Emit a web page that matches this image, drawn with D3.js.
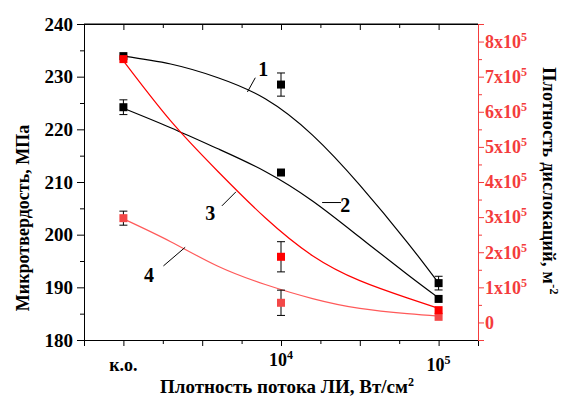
<!DOCTYPE html>
<html>
<head>
<meta charset="utf-8">
<script src="https://cdn.jsdelivr.net/npm/d3@7"></script>
<style>
  body { margin: 0; background: #fff; }
  svg { display: block; }
</style>
</head>
<body>
<div id="chart"></div>
<script>
// x positions are log10 of the flux; "к.о." (control sample) sits at 3
const xPositions = [3, 4, 5];
const xTickLabels = [['к.о.', null], ['10', '4'], ['10', '5']];

// microhardness, MPa (left axis)
const hard1 = [233.9, 228.5, 190.8];
const hard1Err = [0, 2.2, 1.3];
const hard2 = [224.2, 211.8, 187.8];
const hard2Err = [1.4, 0, 0];

// dislocation density, x10^5 m^-2 (right axis)
const dens3 = [7.5, 1.87, 0.35];
const dens3Err = [0, 0.43, 0];
const dens4 = [2.97, 0.56, 0.16];
const dens4Err = [0.2, 0.36, 0];

// fitted curves
const fitX = [3.0, 3.3, 3.6, 3.9, 4.2, 4.5, 4.8, 5.0];
const fit1 = [233.9, 232.4, 229.8, 225.8, 218.9, 209.4, 198.6, 190.8];
const fit2 = [224.0, 220.3, 216.3, 212.0, 206.4, 199.5, 192.5, 188.0];
const fit3 = [7.45, 5.74, 4.30, 2.98, 1.90, 1.19, 0.70, 0.40];
const fit4 = [2.95, 2.30, 1.60, 1.08, 0.68, 0.40, 0.25, 0.18];

const leftTicks = [180, 190, 200, 210, 220, 230, 240];
const rightTicks = [0, 1, 2, 3, 4, 5, 6, 7, 8];

const W = 563, H = 398;
const plot = { left: 84, right: 478, top: 24, bottom: 340 };
const FONT = '"Liberation Serif", "Times New Roman", "DejaVu Serif", serif';

const svg = d3.select('#chart').append('svg')
  .attr('width', W)
  .attr('height', H);

const x = d3.scaleLinear().domain([2.75, 5.25]).range([plot.left, plot.right]);
const yL = d3.scaleLinear().domain([180, 240]).range([plot.bottom, plot.top]);
const yR = d3.scaleLinear().domain([-0.5, 8.5]).range([plot.bottom, plot.top]);

const RED = '#ff0000';
const RED_LIGHT = '#f34848';
const AXIS_RED = '#f43c3c';

// top frame line
svg.append('line').attr('x1', plot.left).attr('x2', plot.right).attr('y1', plot.top).attr('y2', plot.top).attr('stroke', '#000');

// Left axis
const leftMinor = d3.range(185, 240, 10);
const gLeft = svg.append('g').attr('transform', `translate(${plot.left},0)`);
gLeft.call(d3.axisLeft(yL).tickValues(leftTicks).tickSize(7).tickPadding(4).tickFormat(d3.format('d')));
gLeft.append('g').call(d3.axisLeft(yL).tickValues(leftMinor).tickSize(4).tickFormat(''))
  .select('.domain').remove();
gLeft.selectAll('text').attr('font-size', 19).attr('fill', '#000');
gLeft.selectAll('path, line').attr('stroke', '#000');

// Bottom axis
const xMajor = d3.range(3, 5.01, 0.5);
const xMinor = d3.range(2.75, 5.26, 0.5);
const gBottom = svg.append('g').attr('transform', `translate(0,${plot.bottom})`);
gBottom.call(d3.axisBottom(x).tickValues(xMajor).tickSize(6).tickFormat(''));
gBottom.append('g').call(d3.axisBottom(x).tickValues(xMinor).tickSize(4).tickFormat(''))
  .select('.domain').remove();
gBottom.selectAll('path, line').attr('stroke', '#000');

// Top mirror ticks (inward)
const gTop = svg.append('g').attr('transform', `translate(0,${plot.top})`);
gTop.call(d3.axisTop(x).tickValues(xMajor).tickSize(-6).tickFormat(''));
gTop.append('g').call(d3.axisTop(x).tickValues(xMinor).tickSize(-4).tickFormat(''))
  .select('.domain').remove();
gTop.selectAll('path, line').attr('stroke', '#000');

// x tick labels
const xl = svg.append('g').attr('font-size', 18).attr('fill', '#000');
xPositions.forEach((p, i) => {
  const [base, sup] = xTickLabels[i];
  const t = xl.append('text')
    .attr('x', x(p))
    .attr('y', i === 1 ? 366 : 371)
    .attr('text-anchor', 'middle');
  t.append('tspan').text(base);
  if (sup) t.append('tspan').attr('dy', -7).attr('font-size', 12).text(sup);
});

// Right axis (red)
const rightMinor = d3.range(-0.5, 8.51, 1);
const gRight = svg.append('g').attr('transform', `translate(${plot.right},0)`);
gRight.call(d3.axisRight(yR).tickValues(rightTicks).tickSize(6).tickFormat(''));
gRight.append('g').call(d3.axisRight(yR).tickValues(rightMinor).tickSize(4).tickFormat(''))
  .select('.domain').remove();
gRight.selectAll('path, line').attr('stroke', AXIS_RED);
const rl = gRight.append('g').attr('font-size', 18).attr('fill', AXIS_RED);
rightTicks.forEach(v => {
  const t = rl.append('text').attr('x', 7).attr('y', yR(v)).attr('dy', '0.35em');
  if (v === 0) {
    t.text('0');
  } else {
    t.append('tspan').text(`${v}x10`);
    t.append('tspan').attr('dy', -7).attr('font-size', 12).text('5');
  }
});

// Axis titles
svg.append('text')
  .attr('transform', 'translate(29,218) rotate(-90)')
  .attr('text-anchor', 'middle')
  .attr('font-size', 18)
  .text('Микротвердость, МПа');

const rt = svg.append('text')
  .attr('transform', 'translate(543,181) rotate(90)')
  .attr('text-anchor', 'middle')
  .attr('font-size', 18)
  .attr('letter-spacing', 0.3);
rt.append('tspan').text('Плотность дислокаций, м');
rt.append('tspan').attr('dy', -7).attr('font-size', 12).text('-2');

const bt = svg.append('text')
  .attr('x', 287)
  .attr('y', 393)
  .attr('text-anchor', 'middle')
  .attr('font-size', 19);
bt.append('tspan').text('Плотность потока ЛИ, Вт/см');
bt.append('tspan').attr('dy', -7).attr('font-size', 12).text('2');

// Fitted curves
const curves = [
  { vals: fit1, y: yL, color: '#000' },
  { vals: fit2, y: yL, color: '#000' },
  { vals: fit3, y: yR, color: RED },
  { vals: fit4, y: yR, color: '#ff5a5a' }
];
curves.forEach(c => {
  const line = d3.line()
    .x((d, i) => x(fitX[i]))
    .y(d => c.y(d))
    .curve(d3.curveNatural);
  svg.append('path')
    .datum(c.vals)
    .attr('fill', 'none')
    .attr('stroke', c.color)
    .attr('stroke-width', 1.2)
    .attr('d', line);
});

// Points with error bars
const series = [
  { vals: hard1, err: hard1Err, y: yL, color: '#000' },
  { vals: hard2, err: hard2Err, y: yL, color: '#000' },
  { vals: dens4, err: dens4Err, y: yR, color: RED_LIGHT },
  { vals: dens3, err: dens3Err, y: yR, color: RED }
];
series.forEach(s => {
  const g = svg.append('g');
  s.vals.forEach((v, i) => {
    const cx = x(xPositions[i]);
    if (s.err[i] > 0) {
      const y1 = s.y(v - s.err[i]), y2 = s.y(v + s.err[i]);
      g.append('line').attr('x1', cx).attr('x2', cx).attr('y1', y1).attr('y2', y2).attr('stroke', '#000').attr('stroke-width', 1);
      [y1, y2].forEach(yy => g.append('line').attr('x1', cx - 4).attr('x2', cx + 4).attr('y1', yy).attr('y2', yy).attr('stroke', '#000').attr('stroke-width', 1));
    }
    g.append('rect')
      .attr('x', cx - 4).attr('y', s.y(v) - 4)
      .attr('width', 8).attr('height', 8)
      .attr('fill', s.color);
  });
});

// Curve labels with leaders (anchored in data coordinates)
const labels = [
  { text: '1', y: yL, tx: 3.888, ty: 231.5, l: [[3.787, 227.1], [3.837, 229.8]] },
  { text: '2', y: yL, tx: 4.408, ty: 205.6, l: [[4.261, 206.1], [4.381, 206.1]] },
  { text: '3', y: yR, tx: 3.551, ty: 3.13, l: [[3.625, 3.32], [3.714, 3.72]] },
  { text: '4', y: yR, tx: 3.163, ty: 1.35, l: [[3.254, 1.61], [3.392, 2.14]] }
];
labels.forEach(lb => {
  svg.append('line')
    .attr('x1', x(lb.l[0][0])).attr('y1', lb.y(lb.l[0][1]))
    .attr('x2', x(lb.l[1][0])).attr('y2', lb.y(lb.l[1][1]))
    .attr('stroke', '#000').attr('stroke-width', 1);
  svg.append('text')
    .attr('x', x(lb.tx)).attr('y', lb.y(lb.ty))
    .attr('dy', '0.35em')
    .attr('text-anchor', 'middle')
    .attr('font-size', 20)
    .text(lb.text);
});

// serif bold everywhere, overriding the axis defaults
svg.selectAll('text').attr('font-family', FONT).attr('font-weight', 'bold');
svg.selectAll('g').attr('font-family', FONT);
</script>
</body>
</html>
